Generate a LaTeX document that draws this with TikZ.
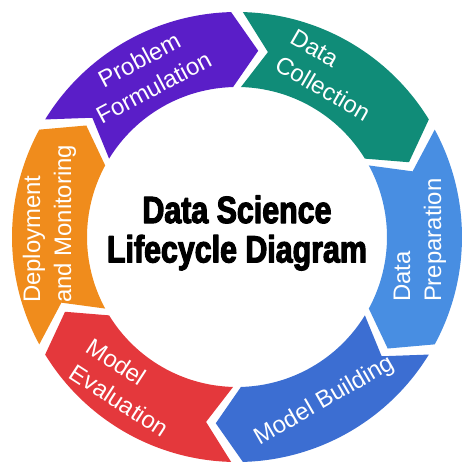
\documentclass[tikz,border=0pt]{standalone}
\usepackage{fontspec}
\setmainfont{Liberation Sans}
\newfontfamily\titlefont[FakeStretch=0.8,FakeBold=3]{Liberation Sans Bold}
\definecolor{probpurple}{RGB}{90,30,200}
\definecolor{collgreen}{RGB}{16,140,120}
\definecolor{prepblue}{RGB}{72,142,226}
\definecolor{buildblue}{RGB}{60,110,210}
\definecolor{evalred}{RGB}{228,56,60}
\definecolor{deployorange}{RGB}{240,140,28}
\tikzset{
  seg/.style={fill=#1, draw=none},
  lbl/.style={text=white, font=\fontsize{17}{22}\selectfont, inner sep=0pt}
}
\begin{document}
\begin{tikzpicture}[x=0.025cm, y=0.025cm, line join=round]
	\useasboundingbox (-237,-237) rectangle (237,237);
	\fill[seg=probpurple] (148.5:225) arc[start angle=148.5, end angle=91.5, radius=225] -- (83.5:187.5) -- (91.5:150) arc[start angle=91.5, end angle=148.5, radius=150] -- (140.5:187.5) -- cycle;
	\fill[seg=collgreen] (88.5:225) arc[start angle=88.5, end angle=31.5, radius=225] -- (23.5:187.5) -- (31.5:150) arc[start angle=31.5, end angle=88.5, radius=150] -- (80.5:187.5) -- cycle;
	\fill[seg=prepblue] (28.5:225) arc[start angle=28.5, end angle=-28.5, radius=225] -- (-36.5:187.5) -- (-28.5:150) arc[start angle=-28.5, end angle=28.5, radius=150] -- (20.5:187.5) -- cycle;
	\fill[seg=buildblue] (-31.5:225) arc[start angle=-31.5, end angle=-88.5, radius=225] -- (-96.5:187.5) -- (-88.5:150) arc[start angle=-88.5, end angle=-31.5, radius=150] -- (-39.5:187.5) -- cycle;
	\fill[seg=evalred] (-91.5:225) arc[start angle=-91.5, end angle=-148.5, radius=225] -- (-156.5:187.5) -- (-148.5:150) arc[start angle=-148.5, end angle=-91.5, radius=150] -- (-99.5:187.5) -- cycle;
	\fill[seg=deployorange] (208.5:225) arc[start angle=208.5, end angle=151.5, radius=225] -- (143.5:187.5) -- (151.5:150) arc[start angle=151.5, end angle=208.5, radius=150] -- (200.5:187.5) -- cycle;
	\node[lbl, rotate=28, align=center] (prob) at (119:187) {Problem\\Formulation};
	\node[lbl, rotate=-30, align=left] (coll) at (60:187) {Data\\Collection};
	\node[lbl, rotate=90, align=left] (prep) at (-1:183) {Data\\Preparation};
	\node[lbl, rotate=30] (build) at (-62:186) {Model Building};
	\node[lbl, rotate=-33, align=left] (eval) at (-126:186) {Model\\Evaluation};
	\node[lbl, rotate=90, align=left] (deploy) at (176:188) {Deployment\\and Monitoring};
	\node[font=\titlefont\fontsize{27}{28}\selectfont, align=center, inner sep=0pt] (title) at (0,4) {Data Science\\Lifecycle Diagram};
\end{tikzpicture}
\end{document}
